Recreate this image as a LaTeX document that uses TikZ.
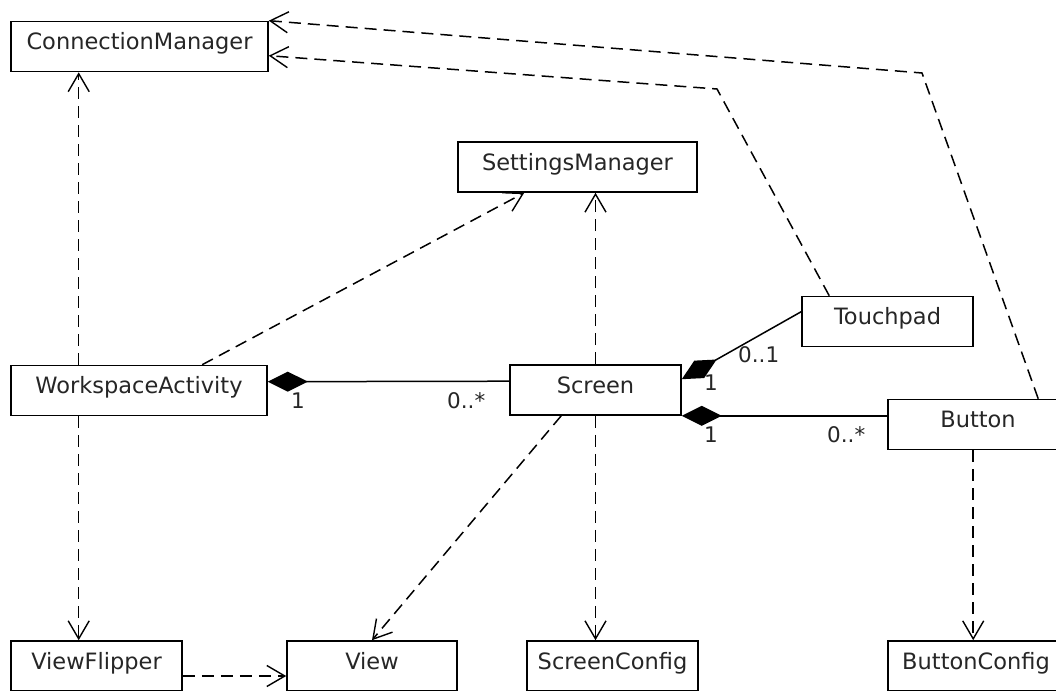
\documentclass[tikz,border=0pt]{standalone}
\usepackage{fontspec}
\setmainfont{DejaVu Sans}
\usetikzlibrary{arrows.meta}
\begin{document}
\begin{tikzpicture}[x=1pt,y=-1pt,
  cls/.style={draw, line width=1.6pt, fill=white, inner sep=0pt,
    minimum height=50pt, text height=16pt, text depth=10pt,
    text=black!85, font=\fontsize{22.5}{26}\selectfont},
  dep/.style={line width=1.5pt, dash pattern=on 12pt off 7pt,
    -{Straight Barb[length=18pt,width=21pt,line width=1.4pt]}},
  comp/.style={line width=1.5pt, {Diamond[length=40pt,width=20pt]}-},
  mult/.style={inner sep=0pt, text=black!85, font=\fontsize{21.5}{25}\selectfont}]
\useasboundingbox (0,0) rectangle (1056,690);
\clip (0,0) rectangle (1056,690);

% classes
\node[cls, minimum width=257pt] (cm)   at (139.5,46.5) {ConnectionManager};
\node[cls, minimum width=239pt] (sm)   at (577.5,167)  {SettingsManager};
\node[cls, minimum width=256pt] (wa)   at (139,390.5)  {WorkspaceActivity};
\node[cls, minimum width=171pt] (scr)  at (595.5,390)  {Screen};
\node[cls, minimum width=171pt] (tp)   at (887.5,321.5) {Touchpad};
\node[cls, minimum width=180pt] (btn)  at (978,424.5)  {Button};
\node[cls, minimum width=171pt] (vf)   at (96.5,666)   {ViewFlipper};
\node[cls, minimum width=170pt] (view) at (372,666)    {View};
\node[cls, minimum width=171pt] (sc)   at (612.5,666)  {ScreenConfig};
\node[cls, minimum width=176pt] (bc)   at (976,666)    {ButtonConfig};

% bends of the long dependencies
\coordinate (tpbend)  at (717,89);
\coordinate (btnbend) at (922,73);

% dependencies
\draw[dep] ([xshift=68.5pt]wa.north west) -- ([xshift=68.5pt]cm.south west);
\draw[dep] ([xshift=68.5pt]wa.south west) -- ([xshift=68.5pt]vf.north west);
\draw[dep] ([xshift=192pt]wa.north west) -- ([xshift=67pt]sm.south west);
\draw[dep] (scr.north) -- (scr.north |- sm.south);
\draw[dep] (scr.south) -- (scr.south |- sc.north);
\draw[dep] ([xshift=52pt]scr.south west) -- (view.north);
\draw[dep] ([yshift=-10pt]vf.east) -- ([yshift=-10pt]view.west);
\draw[dep] ([xshift=86pt]btn.south west) -- ([xshift=86pt]bc.north west);
\draw[dep] ([xshift=28pt]tp.north west) -- (tpbend) -- ([yshift=-35pt]cm.north east);
\draw[dep] ([xshift=151pt]btn.north west) -- (btnbend) -- (cm.north east);

% compositions
\draw[comp] ([yshift=-17pt]wa.north east) -- ([yshift=-17pt]scr.north west);
\draw[comp] ([yshift=-15pt]scr.north east) -- ([yshift=-16pt]tp.north west);
\draw[comp] (scr.south east) -- (scr.south east -| btn.west);

% multiplicities
\node[mult, anchor=base]      (m1) at (298,408) {1};
\node[mult, anchor=base west] (m2) at (447,408) {0..*};
\node[mult, anchor=base]      (m3) at (711,390) {1};
\node[mult, anchor=base west] (m4) at (738,362) {0..1};
\node[mult, anchor=base]      (m5) at (711,442) {1};
\node[mult, anchor=base west] (m6) at (827,442) {0..*};
\end{tikzpicture}
\end{document}
